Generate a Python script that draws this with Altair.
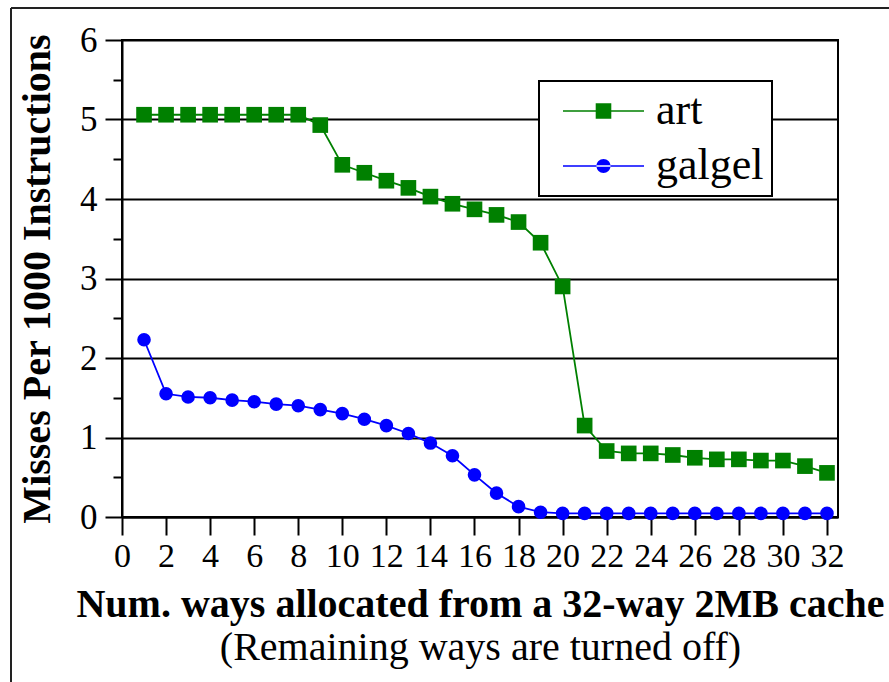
import altair as alt
import pandas as pd

# ---------------- data ----------------
ways = list(range(1, 33))
art = [5.06, 5.06, 5.06, 5.06, 5.06, 5.06, 5.06, 5.06,
       4.93, 4.43, 4.33, 4.23, 4.14, 4.03, 3.94, 3.87,
       3.80, 3.71, 3.45, 2.90, 1.15, 0.83, 0.80, 0.80,
       0.78, 0.745, 0.725, 0.725, 0.71, 0.71, 0.64, 0.555]
galgel = [2.23, 1.55, 1.51, 1.50, 1.47, 1.45, 1.42, 1.40,
          1.35, 1.30, 1.23, 1.15, 1.05, 0.93, 0.77, 0.53,
          0.30, 0.13, 0.06, 0.045, 0.045, 0.045, 0.045, 0.045,
          0.045, 0.045, 0.045, 0.045, 0.045, 0.045, 0.045, 0.045]
series_names = ["art", "galgel"]
series_colors = ["#008000", "#0000ff"]
series_shapes = ["square", "circle"]
series_sizes = [245, 185]
x_ticks = list(range(0, 33, 2))
y_major = [0, 1, 2, 3, 4, 5, 6]
y_minor = [0.5, 1.5, 2.5, 3.5, 4.5, 5.5]

df = pd.DataFrame({
    "ways": ways + ways,
    "misses": art + galgel,
    "series": ["art"] * len(art) + ["galgel"] * len(galgel),
})
frame_df = pd.DataFrame({"k": [0]})

FONT = "Liberation Serif"

color_scale = alt.Scale(domain=series_names, range=series_colors)
x_scale = alt.Scale(domain=[0, 32.5], nice=False, zero=False)
y_scale = alt.Scale(domain=[0, 6], nice=False, zero=False)

# legend symbols: line segment + marker (custom paths)
path_sq = "M-0.6,-0.08H7.5V0.08H-0.6Z M2.67,-0.78H4.23V0.78H2.67Z"
path_ci = "M-0.6,-0.08H7.5V0.08H-0.6Z M2.75,0A0.7,0.7 0 1,0 4.15,0A0.7,0.7 0 1,0 2.75,0Z"

main_x_axis = alt.Axis(
    values=x_ticks, title="Num. ways allocated from a 32-way 2MB cache", orient="bottom",
    grid=False, tickSize=18, tickWidth=2, tickColor="black",
    domainColor="black", domainWidth=2,
    labelFont=FONT, labelFontSize=34, labelColor="black", labelPadding=4,
    labelFlush=False, labelOverlap=False,
    titleFont=FONT, titleFontSize=40, titleFontWeight="bold", titleColor="black",
    titlePadding=11,
)
sub_x_axis = alt.Axis(
    title="(Remaining ways are turned off)", orient="bottom",
    grid=False, ticks=False, labels=False, domain=False,
    titleFont=FONT, titleFontSize=40, titleFontWeight="normal", titleColor="black",
    titlePadding=110,
)
main_y_axis = alt.Axis(
    values=y_major, title="Misses Per 1000 Instructions", orient="left",
    grid=True, gridColor="black", gridWidth=2, gridOpacity=1,
    tickSize=17, tickWidth=2, tickColor="black",
    domainColor="black", domainWidth=2,
    labelFont=FONT, labelFontSize=35, labelColor="black", labelPadding=8,
    labelFlush=False, labelOverlap=False,
    titleFont=FONT, titleFontSize=40, titleFontWeight="bold", titleColor="black",
    titlePadding=22,
)
minor_y_axis = alt.Axis(
    values=y_minor, title=None, orient="left", grid=False, labels=False,
    domain=False, tickSize=9, tickWidth=2, tickColor="black",
)

layers = []
for i, (name, col, shp, sz) in enumerate(zip(series_names, series_colors, series_shapes, series_sizes)):
    base = alt.Chart(df).transform_filter(alt.datum.series == name)
    line = base.mark_line(strokeWidth=1.8, color=col).encode(
        x=alt.X("ways:Q", scale=x_scale, axis=main_x_axis if i == 0 else None),
        y=alt.Y("misses:Q", scale=y_scale, axis=main_y_axis if i == 0 else None),
    )
    pts = base.mark_point(filled=True, shape=shp, size=sz, opacity=1, strokeWidth=0, color=col).encode(
        x=alt.X("ways:Q", scale=x_scale, axis=None),
        y=alt.Y("misses:Q", scale=y_scale, axis=minor_y_axis if i == 0 else None),
    )
    layers += [line, pts]

leg = alt.Legend(
    title=None, orient="none", legendX=417, legendY=41, padding=8,
    strokeColor="black", fillColor="white",
    labelFont=FONT, labelFontSize=44, labelColor="black",
    labelOffset=65, rowPadding=11, symbolSize=400,
    symbolStrokeWidth=0, symbolOpacity=1,
    labelExpr="datum.label + '\u00a0\u00a0\u00a0\u200a'",
)

legend_layer = alt.Chart(df).mark_point(filled=True, opacity=0, size=1).encode(
    x=alt.X("ways:Q", scale=x_scale, axis=sub_x_axis),
    y=alt.Y("misses:Q", scale=y_scale, axis=None),
    color=alt.Color("series:N", scale=color_scale, legend=leg),
    shape=alt.Shape("series:N", scale=alt.Scale(domain=series_names, range=[path_sq, path_ci]), legend=leg),
)

frame_top = alt.Chart(frame_df).mark_rule(color="#222222", strokeWidth=2).encode(
    x=alt.value(-111), x2=alt.value(790), y=alt.value(-32)
)
frame_left = alt.Chart(frame_df).mark_rule(color="#222222", strokeWidth=2).encode(
    x=alt.value(-111), y=alt.value(-32), y2=alt.value(660)
)

chart = alt.layer(
    *layers, legend_layer, frame_top, frame_left
).resolve_axis(x="independent", y="independent").properties(
    width=716, height=477,
    autosize=alt.AutoSizeParams(type="none"),
    padding={"left": 122, "top": 40, "right": 51, "bottom": 165},
).configure(background="white").configure_view(
    stroke="black", strokeWidth=2
).configure_legend(strokeWidth=2)

chart.save("out.html", embed_options={"renderer": "svg", "actions": False})
